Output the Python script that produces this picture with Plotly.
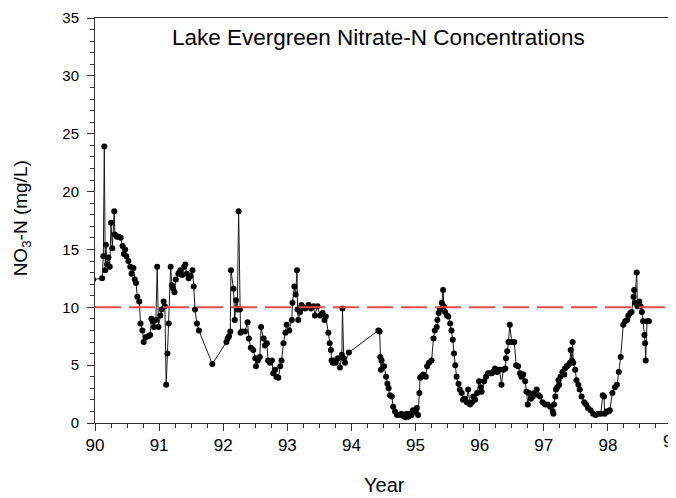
import plotly.graph_objects as go

# Decimal year (19xx) and nitrate-N concentration (mg/L)
years = [
    89.97, 90.11, 90.13, 90.145, 90.16, 90.17, 90.19, 90.21, 90.23, 90.25, 90.27, 90.30,
    90.31, 90.34, 90.37, 90.40, 90.43, 90.45, 90.47, 90.49, 90.52, 90.55, 90.57, 90.60,
    90.62, 90.64, 90.66, 90.69, 90.71, 90.74, 90.76, 90.79, 90.83, 90.86, 90.88, 90.90,
    90.92, 90.95, 90.97, 90.99, 91.02, 91.04, 91.07, 91.09, 91.11, 91.13, 91.15, 91.18,
    91.20, 91.22, 91.24, 91.26, 91.30, 91.33, 91.36, 91.39, 91.41, 91.43, 91.46, 91.49,
    91.52, 91.54, 91.56, 91.59, 91.62, 91.83, 92.05, 92.07, 92.09, 92.11, 92.12, 92.16,
    92.18, 92.20, 92.22, 92.24, 92.26, 92.27, 92.29, 92.34, 92.38, 92.40, 92.43, 92.47,
    92.50, 92.51, 92.54, 92.57, 92.59, 92.63, 92.65, 92.68, 92.70, 92.73, 92.76, 92.78,
    92.81, 92.83, 92.86, 92.89, 92.91, 92.94, 92.97, 92.99, 93.03, 93.07, 93.08, 93.11,
    93.13, 93.15, 93.16, 93.17, 93.20, 93.22, 93.25, 93.28, 93.33, 93.37, 93.41, 93.43,
    93.47, 93.51, 93.55, 93.58, 93.60, 93.64, 93.66, 93.68, 93.69, 93.71, 93.73, 93.75,
    93.79, 93.82, 93.85, 93.86, 93.88, 93.90, 93.96, 94.42, 94.44, 94.45, 94.46, 94.47,
    94.51, 94.54, 94.56, 94.58, 94.60, 94.63, 94.65, 94.68, 94.71, 94.75, 94.78, 94.81,
    94.84, 94.86, 94.89, 94.91, 94.94, 94.96, 94.99, 95.02, 95.04, 95.06, 95.07, 95.09,
    95.12, 95.16, 95.18, 95.21, 95.25, 95.28, 95.30, 95.33, 95.34, 95.36, 95.38, 95.41,
    95.43, 95.44, 95.46, 95.49, 95.51, 95.54, 95.56, 95.58, 95.60, 95.62, 95.64, 95.67,
    95.69, 95.72, 95.74, 95.77, 95.80, 95.82, 95.85, 95.88, 95.90, 95.93, 95.96, 95.99,
    96.02, 96.03, 96.07, 96.10, 96.13, 96.16, 96.19, 96.22, 96.24, 96.27, 96.31, 96.34,
    96.37, 96.40, 96.41, 96.43, 96.45, 96.47, 96.50, 96.54, 96.57, 96.60, 96.63, 96.65,
    96.68, 96.71, 96.73, 96.75, 96.77, 96.80, 96.83, 96.85, 96.89, 96.92, 96.94, 96.98,
    97.02, 97.06, 97.10, 97.14, 97.15, 97.16, 97.18, 97.19, 97.21, 97.23, 97.24, 97.26,
    97.29, 97.32, 97.33, 97.36, 97.38, 97.41, 97.42, 97.44, 97.45, 97.46, 97.49, 97.51,
    97.54, 97.56, 97.59, 97.63, 97.66, 97.69, 97.73, 97.77, 97.81, 97.85, 97.89, 97.92,
    97.94, 97.95, 97.98, 98.01, 98.03, 98.07, 98.11, 98.14, 98.17, 98.20, 98.24, 98.27,
    98.30, 98.32, 98.35, 98.37, 98.40, 98.41, 98.42, 98.45, 98.46, 98.49, 98.51, 98.53,
    98.55, 98.57, 98.58, 98.59, 98.61, 98.64,
]
no3 = [
    12.4, 12.5, 14.4, 23.9, 13.2, 15.4, 13.7, 14.3, 13.5, 17.3, 15.1, 18.3,
    16.3, 16.1, 16.1, 16.0, 15.3, 14.6, 15.0, 14.4, 14.0, 13.5, 12.9, 13.4,
    12.4, 12.1, 10.9, 10.5, 8.6, 8.0, 7.0, 7.4, 7.5, 7.6, 9.0, 8.8,
    8.3, 8.9, 13.5, 8.3, 9.3, 9.8, 10.5, 10.1, 3.3, 6.0, 8.6, 13.5,
    11.9, 11.6, 11.3, 12.4, 12.9, 13.2, 12.8, 13.5, 13.7, 12.9, 12.5, 12.7,
    13.2, 11.8, 9.8, 8.6, 8.0, 5.1, 7.0, 7.3, 7.5, 7.9, 13.2, 11.6,
    8.9, 10.6, 9.8, 18.3, 9.8, 7.8, 7.9, 7.9, 8.7, 7.3, 6.5, 6.3,
    5.6, 4.9, 5.4, 5.7, 8.3, 7.3, 6.7, 6.9, 5.4, 5.2, 5.4, 4.3,
    4.6, 4.0, 3.9, 4.9, 5.4, 6.9, 7.8, 8.5, 8.0, 8.9, 10.4, 11.8,
    11.1, 13.2, 9.8, 8.9, 9.6, 10.2, 10.0, 9.9, 10.2, 9.9, 10.1, 9.3,
    10.1, 9.3, 9.5, 8.9, 9.2, 7.8, 6.9, 6.3, 5.4, 5.2, 5.4, 5.2,
    5.6, 4.8, 5.9, 9.9, 5.6, 5.2, 6.1, 8.0, 7.9, 5.7, 4.6, 5.4,
    4.9, 4.0, 3.4, 3.0, 2.4, 2.3, 1.4, 1.0, 0.7, 0.7, 0.8, 0.6,
    0.5, 0.8, 0.55, 0.8, 0.7, 1.1, 1.0, 1.3, 0.7, 2.6, 3.9, 4.0,
    4.2, 4.0, 4.9, 5.2, 5.4, 7.3, 8.0, 8.3, 8.9, 9.5, 9.8, 10.4,
    11.5, 10.1, 9.6, 9.3, 9.2, 8.6, 8.0, 7.2, 6.0, 5.0, 4.0, 3.4,
    2.9, 2.6, 2.0, 2.1, 1.8, 2.9, 1.6, 1.8, 2.3, 2.0, 2.6, 3.6,
    3.1, 2.7, 3.6, 4.0, 4.3, 4.3, 4.3, 4.5, 4.7, 4.4, 4.6, 3.3,
    4.6, 4.7, 5.6, 6.2, 7.0, 8.5, 7.0, 7.0, 5.0, 4.9, 4.3, 4.0,
    4.2, 3.6, 2.7, 1.6, 2.6, 2.1, 2.3, 2.6, 2.9, 2.4, 2.3, 1.8,
    1.6, 1.6, 1.4, 1.0, 0.8, 1.6, 2.3, 2.9, 3.1, 3.7, 3.3, 4.0,
    4.4, 4.2, 4.7, 4.9, 5.0, 5.2, 6.3, 5.4, 7.0, 5.2, 4.6, 3.7,
    3.3, 2.9, 2.3, 1.8, 1.6, 1.3, 1.1, 0.8, 0.7, 0.8, 0.8, 2.4,
    2.3, 0.8, 1.0, 1.0, 1.1, 2.6, 3.1, 3.3, 4.4, 5.7, 8.5, 8.8,
    8.9, 9.3, 9.5, 9.6, 10.9, 11.5, 10.4, 13.0, 10.1, 10.5, 10.1, 9.6,
    8.8, 7.6, 6.9, 5.4, 8.8, 8.8,
]

standard_level = 10
x_ticks = list(range(90, 100))
y_ticks = list(range(0, 40, 5))
title_text = "Lake Evergreen Nitrate-N Concentrations"
x_title = "Year"
y_title = "NO<sub>3</sub>-N (mg/L)"

FONT = "Liberation Sans, Arial, sans-serif"

fig = go.Figure()
fig.add_trace(go.Scatter(
    x=years, y=no3, mode="lines+markers",
    line=dict(color="#1a1a1a", width=1),
    marker=dict(color="black", size=6),
    showlegend=False,
))

fig.add_shape(type="line", xref="x", yref="y",
              x0=x_ticks[0], x1=x_ticks[-1], y0=standard_level, y1=standard_level,
              line=dict(color="#ee4a4a", width=2, dash="26px,8px"), layer="above")

# last tick label sits on the window edge; plotly drops it, so draw it as annotation
last_tick = x_ticks[-1]
tick_text = [str(t) if t != last_tick else "" for t in x_ticks]

# page has an 8px body margin: size/margins chosen so the plot area lands at
# x 95..672, y 18..423 of the 676x498 window
fig.update_layout(
    width=668, height=490,
    margin=dict(l=87, r=4, t=10, b=75),
    paper_bgcolor="white", plot_bgcolor="white",
    font=dict(family=FONT, color="black", size=15),
    annotations=[
        dict(text=title_text, xref="paper", yref="paper", x=0.492, y=0.952,
             showarrow=False, font=dict(size=22.5, family=FONT), xanchor="center", yanchor="middle"),
        dict(text=x_title, xref="paper", yref="paper", x=0.502, y=-0.153,
             showarrow=False, font=dict(size=20, family=FONT), xanchor="center", yanchor="middle"),
        dict(text=y_title, xref="paper", yref="paper", x=-0.125, y=0.505, textangle=-90,
             showarrow=False, font=dict(size=19, family=FONT), xanchor="center", yanchor="middle"),
        dict(text=str(last_tick), xref="x", yref="paper", x=last_tick, y=-0.045,
             showarrow=False, font=dict(size=17, family=FONT), xanchor="center", yanchor="middle"),
    ],
)

fig.update_xaxes(
    range=[x_ticks[0], x_ticks[-1]], tickvals=x_ticks, ticktext=tick_text,
    ticks="outside", ticklen=7, tickcolor="#333", tickwidth=1,
    minor=dict(dtick=0.25, ticks="outside", ticklen=4, tickcolor="#333"),
    showline=True, linecolor="#333", linewidth=1, mirror=True, automargin=False,
    showgrid=False, zeroline=False, tickfont=dict(size=17),
)
fig.update_yaxes(
    range=[y_ticks[0], y_ticks[-1]], tickvals=y_ticks,
    ticks="outside", ticklen=7, tickcolor="#333", tickwidth=1,
    minor=dict(dtick=1, ticks="outside", ticklen=4, tickcolor="#333"),
    showline=True, linecolor="#333", linewidth=1, mirror=True, automargin=False,
    showgrid=False, zeroline=False, tickfont=dict(size=15), ticklabelstandoff=5,
)

fig.write_html("out.html")
